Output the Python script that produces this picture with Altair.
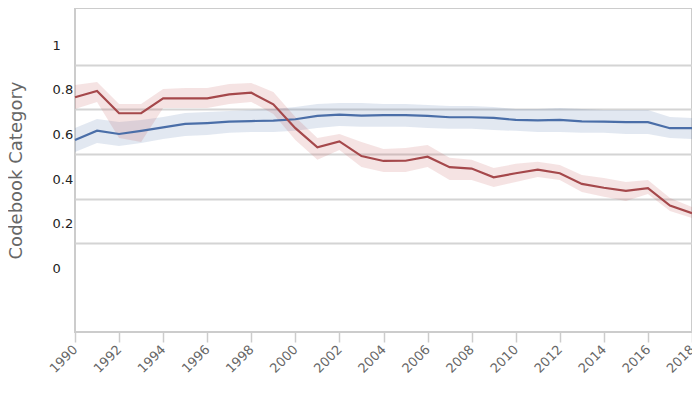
import altair as alt
import pandas as pd

years = list(range(1990, 2019))

red_mean = [0.855, 0.883, 0.783, 0.783, 0.850, 0.850, 0.850, 0.868, 0.875, 0.823,
            0.716, 0.630, 0.657, 0.591, 0.569, 0.570, 0.588, 0.541, 0.535, 0.496,
            0.514, 0.530, 0.514, 0.466, 0.449, 0.435, 0.447, 0.369, 0.335]
red_hi = [0.910, 0.923, 0.825, 0.825, 0.892, 0.896, 0.896, 0.914, 0.919, 0.878,
          0.766, 0.672, 0.690, 0.654, 0.623, 0.627, 0.641, 0.583, 0.574, 0.538,
          0.556, 0.565, 0.551, 0.506, 0.493, 0.475, 0.484, 0.403, 0.363]
red_lo = [0.802, 0.834, 0.672, 0.654, 0.807, 0.807, 0.807, 0.825, 0.834, 0.780,
          0.663, 0.574, 0.618, 0.542, 0.520, 0.520, 0.542, 0.484, 0.484, 0.452,
          0.475, 0.497, 0.484, 0.430, 0.408, 0.390, 0.421, 0.345, 0.313]

blue_mean = [0.663, 0.705, 0.690, 0.704, 0.720, 0.735, 0.739, 0.745, 0.748, 0.750,
             0.756, 0.771, 0.777, 0.772, 0.775, 0.775, 0.771, 0.765, 0.765, 0.762,
             0.753, 0.751, 0.753, 0.747, 0.745, 0.743, 0.743, 0.716, 0.716]
blue_hi = [0.717, 0.757, 0.744, 0.753, 0.766, 0.784, 0.789, 0.793, 0.798, 0.802,
           0.811, 0.825, 0.829, 0.829, 0.825, 0.825, 0.820, 0.816, 0.816, 0.811,
           0.802, 0.802, 0.807, 0.802, 0.798, 0.798, 0.798, 0.766, 0.762]
blue_lo = [0.609, 0.650, 0.636, 0.650, 0.668, 0.681, 0.686, 0.695, 0.699, 0.699,
           0.704, 0.717, 0.726, 0.722, 0.722, 0.722, 0.717, 0.713, 0.713, 0.708,
           0.704, 0.699, 0.699, 0.695, 0.695, 0.690, 0.690, 0.672, 0.668]

series_names = ["Blue", "Red"]
series_line_colors = ["#4a6ea8", "#a5484b"]
series_band_colors = ["#4a6ea8", "#c05050"]

y_ticks = [0, 0.2, 0.4, 0.6, 0.8, 1]
x_ticks = list(range(1990, 2019, 2))

rows = []
for name, m, lo, hi in [("Blue", blue_mean, blue_lo, blue_hi),
                        ("Red", red_mean, red_lo, red_hi)]:
    for i, yr in enumerate(years):
        rows.append(dict(series=name, year=yr, mean=m[i], lo=lo[i], hi=hi[i]))
df = pd.DataFrame(rows)

x_enc = alt.X(
    "year:Q",
    scale=alt.Scale(domain=[1990, 2018], nice=False),
    axis=alt.Axis(
        values=x_ticks, format="d", labelAngle=-45, labelAlign="right",
        labelBaseline="middle", labelFontSize=13, labelFont="DejaVu Sans",
        labelColor="#666666", tickColor="#cccccc", tickSize=10, tickWidth=1.5,
        grid=False, domain=False, title=None, labelPadding=5,
    ),
)

y_scale = alt.Scale(domain=[-0.198, 1.255], nice=False, zero=False)
y_axis = alt.Axis(
    values=y_ticks, format="~g", grid=True, gridColor="#d4d4d4", gridWidth=2,
    gridOpacity={"condition": {"test": "datum.value === 0", "value": 0}, "value": 1},
    ticks=False, tickSize=0, domain=False, labelOffset=-19.5, labelAlign="left",
    labelPadding=23, labelFontSize=13, labelFont="DejaVu Sans", labelColor="#222222",
    title="Codebook Category", titleFontSize=18, titleFont="DejaVu Sans",
    titleColor="#666666", titleFontWeight="normal", titlePadding=27,
)

base = alt.Chart(df)

band = base.mark_area(opacity=0.16).encode(
    x=x_enc,
    y=alt.Y("lo:Q", scale=y_scale, axis=y_axis),
    y2="hi:Q",
    color=alt.Color("series:N", scale=alt.Scale(domain=series_names, range=series_band_colors), legend=None),
    detail="series:N",
)

line = base.mark_line(strokeWidth=2.2).encode(
    x=x_enc,
    y=alt.Y("mean:Q", scale=y_scale),
    color=alt.Color("series:N", scale=alt.Scale(domain=series_names, range=series_line_colors), legend=None),
    order=alt.Order("year:Q"),
)

chart = alt.layer(band, line).resolve_scale(color="independent").properties(
    width=617, height=324,
    autosize=alt.AutoSizeParams(type="none"),
    padding={"left": 67, "top": 0, "right": 0, "bottom": 62},
).configure_view(stroke="#cccccc", strokeWidth=2)

chart.save("out.html", embed_options={"renderer": "svg", "actions": False})
